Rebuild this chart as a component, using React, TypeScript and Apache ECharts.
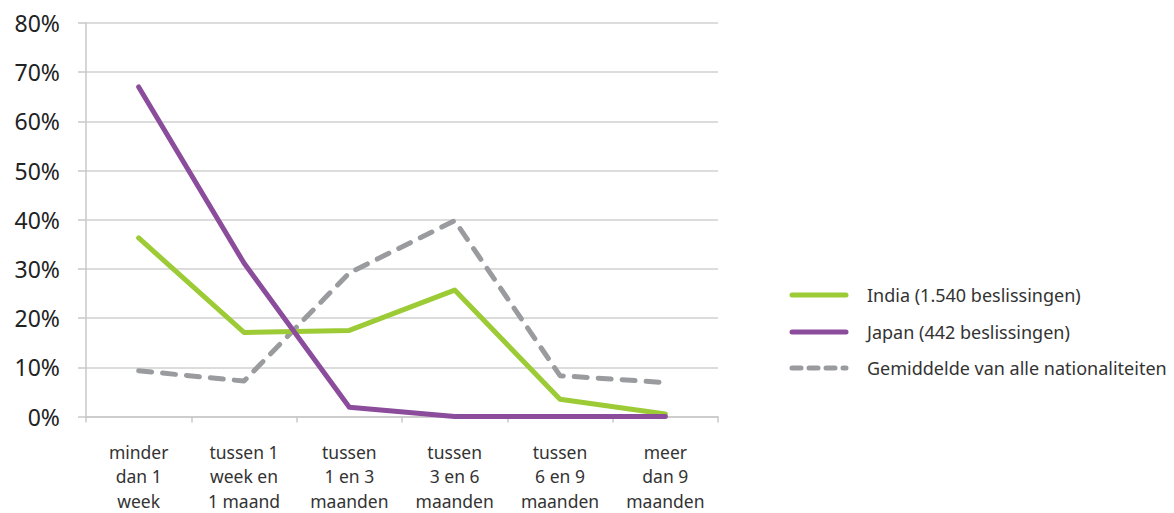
import React, { useEffect, useRef } from "react";
import * as echarts from "echarts";

const categories = [
  "minder\ndan 1\nweek",
  "tussen 1\nweek en\n1 maand",
  "tussen\n1 en 3\nmaanden",
  "tussen\n3 en 6\nmaanden",
  "tussen\n6 en 9\nmaanden",
  "meer\ndan 9\nmaanden",
];
const india = [36.3, 17.1, 17.5, 25.7, 3.5, 0.5];
const japan = [67.0, 31.2, 1.9, 0, 0, 0];
const gemiddelde = [9.3, 7.2, 29.2, 39.8, 8.3, 6.9];
const seriesNames = [
  "India (1.540 beslissingen)",
  "Japan (442 beslissingen)",
  "Gemiddelde van alle nationaliteiten",
];
const seriesColors = ["#9ccb36", "#8b4c9c", "#9a9b9f"];
const seriesDash: (number[] | null)[] = [null, null, [13, 11]];

const FONT = "'Noto Sans', sans-serif";

export default function App() {
  const ref = useRef<HTMLDivElement>(null);
  useEffect(() => {
    if (!ref.current) return;
    const chart = echarts.init(ref.current, null, { renderer: "svg" });
    const legendTops = [295, 332, 368];
    const legendGraphics: any[] = [];
    seriesNames.forEach((name, i) => {
      legendGraphics.push({
        type: "line",
        shape: { x1: 792, y1: legendTops[i], x2: 846, y2: legendTops[i] },
        style: {
          stroke: seriesColors[i],
          lineWidth: 5,
          lineCap: "round",
          lineDash: seriesDash[i] ? [9, 8] : null,
        },
      });
      legendGraphics.push({
        type: "text",
        x: 867,
        y: legendTops[i],
        style: {
          text: name,
          fontSize: 18,
          fontFamily: FONT,
          fill: "#333",
          verticalAlign: "middle",
          align: "left",
        },
      });
    });
    const seriesData = [india, japan, gemiddelde];
    chart.setOption({
      animation: false,
      backgroundColor: "#ffffff",
      textStyle: { fontFamily: FONT },
      grid: { left: 86, right: 456, top: 23, bottom: 96 },
      graphic: legendGraphics,
      xAxis: {
        type: "category",
        data: categories,
        boundaryGap: true,
        axisLine: { lineStyle: { color: "#c8c8c8", width: 1.5 } },
        axisTick: { show: true, length: 6, alignWithLabel: false, lineStyle: { color: "#c8c8c8", width: 1.5 } },
        axisLabel: {
          interval: 0,
          fontSize: 17.5,
          lineHeight: 24.5,
          color: "#333",
          margin: 23,
          fontFamily: FONT,
        },
      },
      yAxis: {
        type: "value",
        min: 0,
        max: 80,
        interval: 10,
        axisLine: { show: true, lineStyle: { color: "#c8c8c8", width: 1.5 } },
        axisTick: { show: true, length: 8, lineStyle: { color: "#c8c8c8", width: 1.5 } },
        splitLine: { lineStyle: { color: "#d0d0d0", width: 1.5 } },
        axisLabel: {
          formatter: "{value}%",
          fontSize: 23,
          color: "#222",
          margin: 26,
          fontFamily: FONT,
        },
      },
      series: seriesNames.map((name, i) => ({
        name,
        type: "line",
        data: seriesData[i],
        symbol: "none",
        lineStyle: {
          color: seriesColors[i],
          width: 5,
          cap: "round",
          join: "round",
          type: seriesDash[i] || "solid",
        },
        itemStyle: { color: seriesColors[i] },
        z: [3, 4, 2][i],
      })),
    });
    return () => chart.dispose();
  }, []);
  return (
    <div
      ref={ref}
      style={{ position: "fixed", left: 0, top: 0, width: 1174, height: 513, background: "#fff" }}
    />
  );
}
